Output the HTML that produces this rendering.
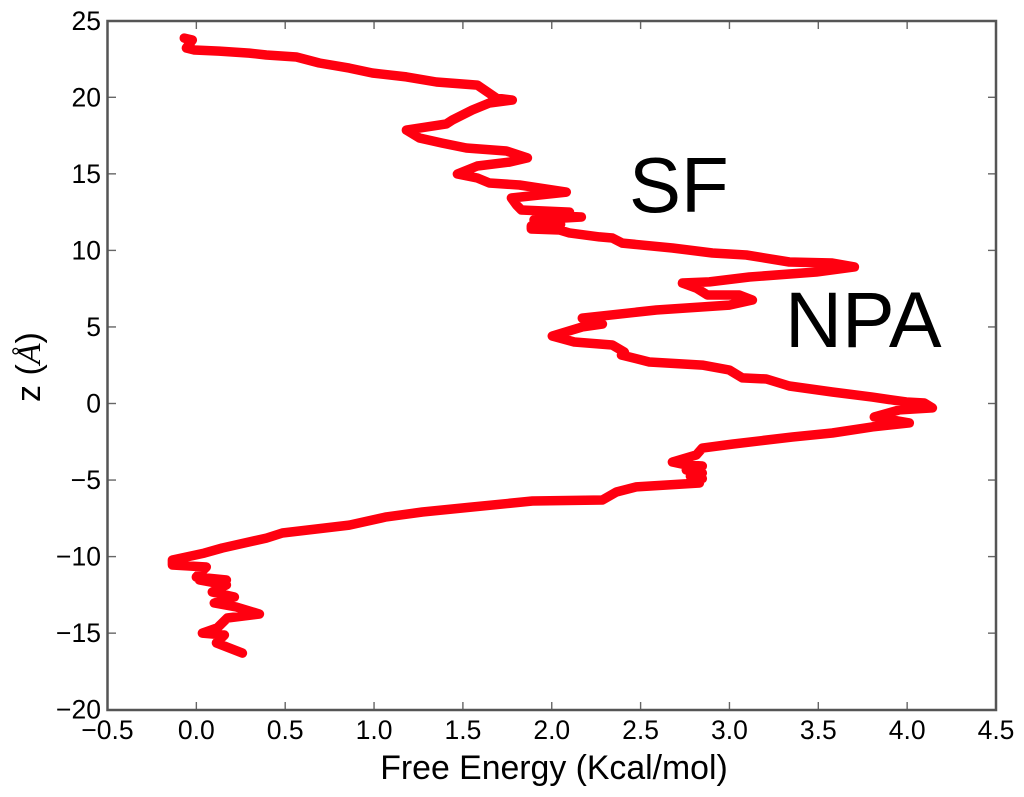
<!DOCTYPE html>
<html>
<head>
<meta charset="utf-8">
<style>
html,body{margin:0;padding:0;background:#fff;width:1024px;height:797px;overflow:hidden}
svg{display:block}
text{font-family:"Liberation Sans",sans-serif;fill:#000}
</style>
</head>
<body>
<svg id="chart" xmlns="http://www.w3.org/2000/svg" width="1024" height="797" viewBox="0 0 1024 797">
  <g id="ticks"></g>
  <path id="curve" fill="none" stroke="#ff0010" stroke-width="9.5" stroke-linejoin="round" stroke-linecap="round"></path>
  <rect x="107.5" y="21" width="888.5" height="689" fill="none" stroke="#555" stroke-width="2.5"></rect>
  <g id="xlabels"></g>
  <g id="ylabels"></g>
  <text x="554" y="779" font-size="33.8" text-anchor="middle">Free Energy (Kcal/mol)</text>
  <text transform="translate(40,402) rotate(-90)" font-size="34">z (<tspan font-family="Liberation Serif" font-style="italic">Å</tspan>)</text>
  <text x="629" y="212" font-size="78">SF</text>
  <text x="785" y="347" font-size="79">NPA</text>
</svg>
<script>
const xTicks = [-0.5, 0, 0.5, 1, 1.5, 2, 2.5, 3, 3.5, 4, 4.5];
const yTicks = [25, 20, 15, 10, 5, 0, -5, -10, -15, -20];
const xTickLabels = ["\u22120.5", "0.0", "0.5", "1.0", "1.5", "2.0", "2.5", "3.0", "3.5", "4.0", "4.5"];
const yTickLabels = ["25", "20", "15", "10", "5", "0", "\u22125", "\u221210", "\u221215", "\u221220"];
const freeEnergy = [-0.068,-0.023,-0.056,-0.011,0.129,0.298,0.394,0.563,0.692,0.861,0.990,1.182,1.351,1.581,1.688,1.778,1.649,1.553,1.441,1.407,1.182,1.255,1.384,1.519,1.745,1.863,1.761,1.581,1.469,1.581,1.649,1.818,2.082,1.773,1.801,1.829,2.1,1.95,2.167,1.9,2.05,1.885,1.885,2.043,2.099,2.268,2.341,2.397,2.679,2.904,3.095,3.337,3.579,3.703,3.489,3.112,2.887,2.735,2.814,2.876,3.056,3.129,2.999,2.589,2.172,2.285,2.172,2.003,2.127,2.341,2.409,2.392,2.549,2.847,2.999,3.073,3.208,3.337,3.579,3.804,3.995,4.097,4.142,3.956,3.815,4.012,3.804,3.579,3.354,3.016,2.847,2.814,2.679,2.757,2.847,2.757,2.847,2.78,2.847,2.78,2.831,2.476,2.364,2.285,1.891,1.553,1.272,1.069,0.861,0.484,0.394,0.146,0.045,-0.135,-0.135,0.056,0,0.169,0.017,0.169,0.09,0.214,0.101,0.225,0.355,0.174,0.118,0.034,0.158,0.113,0.259];
const zPosition = [23.87,23.74,23.22,23.09,23.02,22.89,22.76,22.63,22.24,21.91,21.59,21.33,21.00,20.80,19.95,19.82,19.63,19.17,18.52,18.26,17.86,17.34,17.01,16.69,16.49,16.04,15.77,15.51,14.99,14.73,14.40,14.27,13.81,13.42,12.97,12.64,12.5,12.3,12.18,12.0,11.7,11.6,11.4,11.33,11.14,10.88,10.81,10.48,10.16,9.83,9.70,9.24,9.18,8.92,8.59,8.26,7.94,7.87,7.54,7.09,7.09,6.76,6.43,6.11,5.58,5.19,5.00,4.41,4.02,3.82,3.36,3.17,2.71,2.51,2.19,1.67,1.60,1.14,0.75,0.42,0.10,0.03,-0.29,-0.42,-0.88,-1.27,-1.53,-1.93,-2.19,-2.65,-2.91,-3.36,-3.82,-4.02,-4.08,-4.34,-4.54,-4.75,-4.9,-5.05,-5.19,-5.45,-5.78,-6.30,-6.37,-6.76,-7.09,-7.41,-7.94,-8.46,-8.79,-9.44,-9.77,-10.22,-10.55,-10.68,-11.33,-11.53,-11.53,-11.85,-12.31,-12.64,-13.03,-13.29,-13.75,-14.01,-14.66,-15.0,-15.12,-15.64,-16.30];

const SVG_NS = "http://www.w3.org/2000/svg";
function xScale(v){ return 107.5 + (v + 0.5) * 177.7; }
function yScale(v){ return 403.5 - v * 15.31; }

const tickGroup = document.getElementById('ticks');
const xLabelGroup = document.getElementById('xlabels');
const yLabelGroup = document.getElementById('ylabels');

function addTick(x1, y1, x2, y2){
  const t = document.createElementNS(SVG_NS, 'line');
  
  
  t.setAttribute('x1', x1);
  t.setAttribute('y1', y1);
  t.setAttribute('x2', x2);
  t.setAttribute('y2', y2);
  t.setAttribute('stroke', '#666');
  t.setAttribute('stroke-width', '1.4');
  tickGroup.appendChild(t);
}

xTicks.forEach(function(v, i){
  const x = xScale(v);
  addTick(x, 710, x, 702);
  addTick(x, 21, x, 29);
  const label = document.createElementNS(SVG_NS, 'text');
  
  
  label.setAttribute('x', x);
  label.setAttribute('y', 739);
  label.setAttribute('font-size', '26.5');
  label.setAttribute('text-anchor', 'middle');
  label.textContent = xTickLabels[i];
  xLabelGroup.appendChild(label);
});

yTicks.forEach(function(v, i){
  const y = yScale(v);
  addTick(107.5, y, 116, y);
  addTick(996, y, 988, y);
  const label = document.createElementNS(SVG_NS, 'text');
  
  
  label.setAttribute('x', 101);
  label.setAttribute('y', y + 9);
  label.setAttribute('font-size', '26.5');
  label.setAttribute('text-anchor', 'end');
  label.textContent = yTickLabels[i];
  yLabelGroup.appendChild(label);
});

let d = '';
freeEnergy.forEach(function(v, i){
  d += (i === 0 ? 'M' : 'L') + xScale(v).toFixed(1) + ' ' + yScale(zPosition[i]).toFixed(1) + ' ';
});
document.getElementById('curve').setAttribute('d', d);
</script>
</body>
</html>
